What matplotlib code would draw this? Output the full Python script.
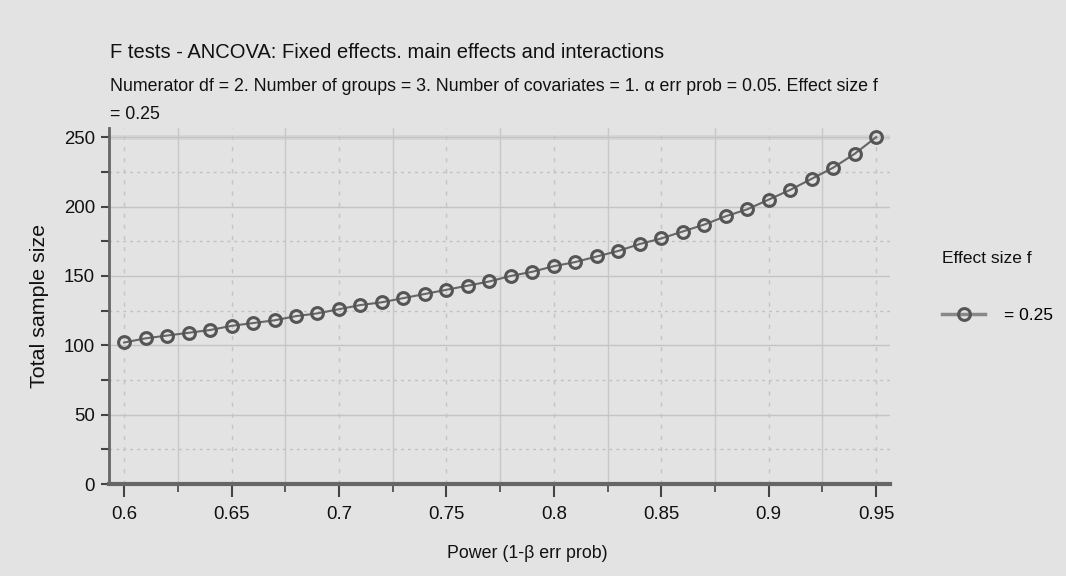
import matplotlib
matplotlib.use("Agg")
import matplotlib.pyplot as plt
from matplotlib.ticker import FixedLocator

power = [0.60, 0.61, 0.62, 0.63, 0.64, 0.65, 0.66, 0.67, 0.68, 0.69,
         0.70, 0.71, 0.72, 0.73, 0.74, 0.75, 0.76, 0.77, 0.78, 0.79,
         0.80, 0.81, 0.82, 0.83, 0.84, 0.85, 0.86, 0.87, 0.88, 0.89,
         0.90, 0.91, 0.92, 0.93, 0.94, 0.95]
total_n = [102, 105, 107, 109, 111, 114, 116, 118, 121, 123,
           126, 129, 131, 134, 137, 140, 143, 146, 150, 153,
           157, 160, 164, 168, 173, 177, 182, 187, 193, 198,
           205, 212, 220, 228, 238, 250]
x_ticks = [0.6, 0.65, 0.7, 0.75, 0.8, 0.85, 0.9, 0.95]
x_tick_labels = ["0.6", "0.65", "0.7", "0.75", "0.8", "0.85", "0.9", "0.95"]
y_ticks = [0, 50, 100, 150, 200, 250]
series_label = "= 0.25"
legend_title = "Effect size f"
title = "F tests - ANCOVA: Fixed effects. main effects and interactions"
subtitle = ("Numerator df = 2. Number of groups = 3. Number of covariates = 1. "
            "\u03b1 err prob = 0.05. Effect size f\n= 0.25")
xlabel = "Power (1-\u03b2 err prob)"
ylabel = "Total sample size"

plt.rcParams['font.family'] = ["Liberation Sans", "DejaVu Sans"]

bg = "#e3e3e3"
fig = plt.figure(figsize=(10.66, 5.76), dpi=100, facecolor=bg)
ax = fig.add_axes([0.1023, 0.1597, 0.7327, 0.6183], facecolor=bg)

ax.set_xlim(0.593, 0.9565)
ax.set_ylim(0, 256.7)

ax.xaxis.set_major_locator(FixedLocator(x_ticks))
ax.set_xticklabels(x_tick_labels)
ax.xaxis.set_minor_locator(FixedLocator([0.625, 0.675, 0.725, 0.775, 0.825, 0.875, 0.925]))
ax.yaxis.set_major_locator(FixedLocator(y_ticks))
ax.yaxis.set_minor_locator(FixedLocator([25, 75, 125, 175, 225]))

ax.grid(which="major", axis="y", color="#c4c4c4", lw=1.0, ls="-")
ax.grid(which="minor", axis="y", color="#c0c0c0", lw=1.0, ls=(0, (2, 3)))
ax.grid(which="minor", axis="x", color="#c8c8c8", lw=1.0, ls="-")
ax.grid(which="major", axis="x", color="#c4c4c4", lw=1.0, ls=(0, (3, 5)))
ax.axhline(250, color="#d6d6d6", lw=3.5, zorder=0.5)
ax.set_axisbelow(True)

for s in ["top", "right"]:
    ax.spines[s].set_visible(False)
ax.spines["left"].set_color("#666666")
ax.spines["left"].set_linewidth(2)
ax.spines["bottom"].set_color("#666666")
ax.spines["bottom"].set_linewidth(3)

ax.tick_params(which="both", direction="out", color="#444444", labelsize=13.4,
               labelcolor="#111111")
ax.tick_params(axis="y", which="both", length=6, width=1.5, pad=4)
ax.tick_params(axis="x", which="major", length=9, width=1.5, pad=7)
ax.tick_params(axis="x", which="minor", length=6, width=1.2)

ax.plot(power, total_n, color="#666666", lw=1.5, marker="o", ms=8.5,
        mfc="none", mec="#555555", mew=2.2, label=series_label, clip_on=False)

ax.set_xlabel(xlabel, fontsize=12.75, color="#111111")
ax.xaxis.set_label_coords(0.535, -0.17)
ax.set_ylabel(ylabel, fontsize=15.4, color="#111111")
ax.yaxis.set_label_coords(-0.077, 0.5)

fig.text(0.1032, 0.909, title, fontsize=14.5, color="#111111", ha="left", va="center")
fig.text(0.1032, 0.826, subtitle, fontsize=12.75, color="#111111", ha="left",
         va="center", linespacing=1.85)

leg = fig.legend(loc="upper left", bbox_to_anchor=(0.8835, 0.5645), frameon=False,
                 title=legend_title, fontsize=12.5, title_fontsize=12.5,
                 handlelength=2.5, handletextpad=1.1, borderaxespad=0, borderpad=0)
leg._legend_box.sep = 30
leg._legend_box.align = "left"
leg.get_title().set_color("#111111")
for h in leg.get_lines():
    h.set_color("#888888")
    h.set_linewidth(2.5)

fig.savefig("out.png", dpi=100, facecolor=bg)
